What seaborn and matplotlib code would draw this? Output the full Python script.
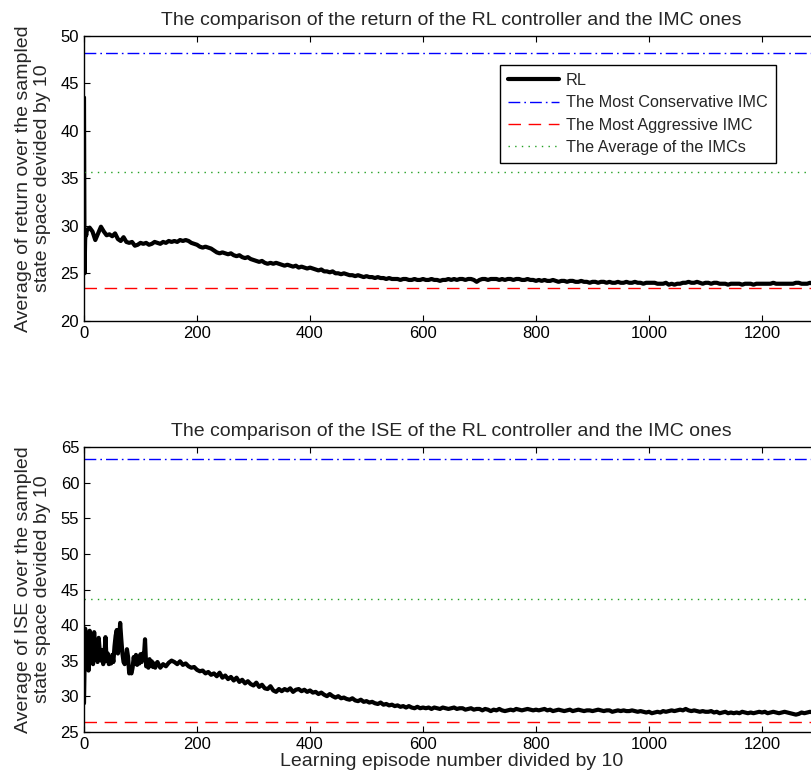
import numpy as np
import pandas as pd
import matplotlib
matplotlib.use("Agg")
import matplotlib.pyplot as plt
import seaborn as sns

# ---------------- data ----------------
episodes_return = [0, 1, 2, 3, 4] + list(range(5, 1301, 5))
episodes_ise = list(range(0, 130, 2)) + list(range(130, 1301, 5))

rl_return = [
    43.5, 25.0, 28.5, 29.3, 29.0,
    29.5, 29.8, 29.4, 28.5, 29.2, 29.9, 29.4, 29.0, 29.1, 28.9,
    29.2, 28.6, 28.4, 28.8, 28.3, 28.2, 28.3, 27.9, 28.0, 28.2,
    28.1, 28.2, 28.0, 28.1, 28.3, 28.2, 28.1, 28.3, 28.2, 28.4,
    28.3, 28.4, 28.3, 28.5, 28.4, 28.5, 28.4, 28.2, 28.1, 28.0,
    27.8, 27.7, 27.8, 27.7, 27.6, 27.4, 27.2, 27.1, 27.2, 27.1,
    27.0, 27.1, 26.9, 26.8, 26.9, 26.7, 26.6, 26.7, 26.5, 26.4,
    26.3, 26.2, 26.3, 26.1, 26.0, 26.1, 26.0, 26.1, 26.0, 25.9,
    25.8, 25.9, 25.8, 25.7, 25.8, 25.6, 25.7, 25.6, 25.5, 25.6,
    25.5, 25.4, 25.3, 25.4, 25.2, 25.2, 25.1, 25.2, 25.0, 25.0,
    24.9, 25.0, 24.9, 24.8, 24.8, 24.7, 24.8, 24.7, 24.6, 24.7,
    24.6, 24.6, 24.5, 24.6, 24.5, 24.5, 24.4, 24.5, 24.4, 24.4,
    24.4, 24.3, 24.4, 24.4, 24.3, 24.3, 24.4, 24.3, 24.3, 24.4,
    24.3, 24.3, 24.4, 24.3, 24.3, 24.2, 24.3, 24.3, 24.4, 24.3,
    24.4, 24.3, 24.4, 24.4, 24.3, 24.4, 24.4, 24.3, 24.1, 24.3,
    24.4, 24.4, 24.3, 24.4, 24.4, 24.4, 24.3, 24.4, 24.3, 24.4,
    24.4, 24.3, 24.4, 24.4, 24.3, 24.3, 24.4, 24.3, 24.3, 24.2,
    24.3, 24.2, 24.3, 24.2, 24.2, 24.3, 24.2, 24.1, 24.2, 24.2,
    24.1, 24.2, 24.2, 24.1, 24.1, 24.2, 24.1, 24.1, 24.0, 24.1,
    24.1, 24.0, 24.1, 24.1, 24.0, 24.1, 24.0, 24.0, 24.1, 24.0,
    24.0, 24.1, 24.0, 24.0, 24.1, 24.0, 24.0, 23.9, 24.0, 24.0,
    24.0, 24.0, 23.9, 23.9, 23.9, 24.0, 23.8, 23.9, 23.8, 23.9,
    23.9, 24.0, 24.0, 24.1, 24.0, 24.0, 24.1, 24.0, 23.9, 24.0,
    24.0, 23.9, 24.0, 24.0, 23.9, 23.9, 23.9, 23.8, 23.9, 23.9,
    23.9, 23.9, 23.8, 23.9, 23.9, 23.9, 23.8, 23.9, 23.9, 23.9,
    23.9, 23.9, 23.9, 24.0, 23.9, 23.9, 23.9, 23.9, 23.9, 23.9,
    23.9, 24.0, 24.0, 23.9, 23.9, 23.9, 24.0, 23.9, 23.9, 23.9,
]

rl_ise = [
    # episodes 0..128, every 2
    29.0, 39.5, 35.0, 38.8, 33.6, 39.2, 36.0, 38.5, 34.5, 39.0,
    35.5, 37.8, 34.8, 38.2, 36.2, 35.0, 36.5, 34.5, 35.5, 38.3,
    35.0, 36.0, 34.5, 35.2, 34.6, 35.8, 34.8, 37.0, 38.5, 39.3,
    36.0, 37.5, 40.3, 38.0, 36.0, 34.8, 34.5, 35.0, 36.6, 35.5,
    33.2, 33.5, 33.2, 34.0, 35.5, 34.6, 35.8, 34.4, 35.3, 34.6,
    35.9, 34.8, 36.0, 35.5, 38.0, 34.2, 35.0, 34.0, 35.2, 34.3,
    34.9, 34.1, 34.6, 34.0, 34.5,
    # episodes 130..1300, every 5
    34.8, 34.0, 34.5, 34.2, 34.7,
    35.0, 34.8, 34.5, 34.9, 34.4, 34.6, 34.2, 34.0, 34.1, 33.7,
    33.5, 33.6, 33.2, 33.4, 33.0, 33.2, 32.8, 33.3, 32.6, 32.9,
    32.4, 32.7, 32.2, 32.6, 32.0, 32.3, 31.8, 32.1, 31.7, 31.5,
    31.9, 31.3, 31.6, 31.1, 31.0, 31.4, 30.8, 30.6, 31.0, 30.7,
    31.0, 30.8, 31.1, 30.6, 30.9, 31.0, 30.7, 30.9, 30.6, 30.8,
    30.5, 30.6, 30.3, 30.5, 30.2, 30.0, 30.3, 30.0, 29.8, 30.0,
    29.7, 29.8, 29.6, 29.5, 29.7, 29.4, 29.3, 29.5, 29.2, 29.3,
    29.1, 29.2, 29.0, 28.9, 29.1, 28.8, 28.9, 28.7, 28.8, 28.6,
    28.7, 28.5, 28.6, 28.4, 28.6, 28.4, 28.3, 28.5, 28.3, 28.4,
    28.3, 28.4, 28.2, 28.4, 28.3, 28.2, 28.4, 28.3, 28.2, 28.3,
    28.4, 28.2, 28.3, 28.3, 28.1, 28.2, 28.3, 28.1, 28.2, 28.2,
    28.0, 28.2, 28.1, 27.9, 28.1, 28.0, 28.2, 28.0, 27.9, 28.0,
    28.1, 28.0, 28.2, 28.1, 28.0, 28.1, 28.2, 28.1, 28.0, 28.1,
    28.0, 28.1, 28.2, 28.0, 28.1, 27.9, 28.0, 28.1, 28.0, 27.9,
    28.0, 28.1, 27.9, 28.0, 28.1, 28.0, 27.9, 28.0, 28.0, 27.9,
    28.0, 28.1, 28.0, 27.9, 28.0, 28.0, 27.8, 27.9, 28.0, 27.9,
    28.0, 27.9, 27.9, 28.0, 27.9, 27.8, 27.9, 27.8, 27.7, 27.8,
    27.6, 27.7, 27.8, 27.7, 27.9, 27.8, 27.9, 28.0, 27.9, 28.0,
    28.1, 28.0, 28.2, 28.0, 27.9, 28.0, 27.9, 27.8, 27.9, 27.8,
    27.8, 27.9, 27.7, 27.8, 27.6, 27.7, 27.8, 27.6, 27.7, 27.6,
    27.7, 27.6, 27.8, 27.7, 27.6, 27.7, 27.6, 27.7, 27.8, 27.7,
    27.8, 27.6, 27.7, 27.8, 27.7, 27.6, 27.7, 27.8, 27.7, 27.6,
    27.5, 27.4, 27.5, 27.7, 27.6, 27.7, 27.8, 27.7, 27.6, 27.7,
]

imc_return = {"conservative": 48.15, "aggressive": 23.4, "average": 35.65}
imc_ise = {"conservative": 63.3, "aggressive": 26.4, "average": 43.65}

legend_labels = ["RL", "The Most Conservative IMC", "The Most Aggressive IMC",
                 "The Average of the IMCs"]
x_ticks = [0, 200, 400, 600, 800, 1000, 1200]
y_ticks_return = [20, 25, 30, 35, 40, 45, 50]
y_ticks_ise = [25, 30, 35, 40, 45, 50, 55, 60, 65]

# ---------------- style ----------------
sns.set_style("ticks")
plt.rcParams["font.family"] = ["Liberation Sans", "DejaVu Sans"]
plt.rcParams["xtick.direction"] = "in"
plt.rcParams["ytick.direction"] = "in"
plt.rcParams["xtick.top"] = True
plt.rcParams["ytick.right"] = True

TICK_FS = 12
LABEL_FS = 14
LEG_FS = 11.7
ref_styles = {
    "conservative": dict(color="#0000ff", dashes=(8.5, 2.9, 1.2, 2.9)),
    "aggressive": dict(color="#ff0000", dashes=(9.0, 5.5)),
    "average": dict(color="#22a022", dashes=(1.0, 3.8)),
}
ref_label = {"conservative": legend_labels[1], "aggressive": legend_labels[2],
             "average": legend_labels[3]}

fig = plt.figure(figsize=(8.12, 7.82), dpi=100)
ax1 = fig.add_axes([84 / 812, 1 - 320.8 / 782, 734.5 / 812, 285.1 / 782])
ax2 = fig.add_axes([84 / 812, 1 - 731.7 / 782, 734.5 / 812, 284.4 / 782])


def draw(ax, xs, rl, imc, yticks, ylim, title, ylabel, legend=False):
    df = pd.DataFrame({"episode": xs, "value": rl})
    sns.lineplot(data=df, x="episode", y="value", ax=ax, color="black",
                 linewidth=3.0, label=legend_labels[0], legend=False)
    xr = [min(xs), max(xs)]
    for key in ["conservative", "aggressive", "average"]:
        st = ref_styles[key]
        rdf = pd.DataFrame({"episode": xr, "value": [imc[key]] * 2})
        sns.lineplot(data=rdf, x="episode", y="value", ax=ax,
                     color=st["color"], linewidth=1.0,
                     label=ref_label[key], legend=False)
        ax.lines[-1].set_dashes(st["dashes"])
    ax.set_xlim(0, 1300)
    ax.set_ylim(*ylim)
    ax.set_xticks(x_ticks)
    ax.set_yticks(yticks)
    ax.tick_params(labelsize=TICK_FS, length=4, width=0.8, colors="black")
    for s in ax.spines.values():
        s.set_linewidth(1.0)
        s.set_color("black")
    ax.set_title(title, fontsize=LABEL_FS, pad=8)
    ax.set_ylabel(ylabel, fontsize=LABEL_FS, labelpad=7, linespacing=1.15)
    ax.set_xlabel("")
    if legend:
        leg = ax.legend(loc="upper right", bbox_to_anchor=(0.942, 0.898),
                        borderaxespad=0, fontsize=LEG_FS, frameon=True,
                        fancybox=False, framealpha=1, edgecolor="black",
                        handlelength=3.1, handletextpad=0.45,
                        labelspacing=0.45, borderpad=0.5)
        leg.get_frame().set_linewidth(1.0)


draw(ax1, episodes_return, rl_return, imc_return, y_ticks_return, (20, 50),
     "The comparison of the return of the RL controller and the IMC ones",
     "Average of return over the sampled\nstate space devided by 10", legend=True)
draw(ax2, episodes_ise, rl_ise, imc_ise, y_ticks_ise, (25, 65),
     "The comparison of the ISE of the RL controller and the IMC ones",
     "Average of ISE over the sampled\nstate space devided by 10")
ax2.set_xlabel("Learning episode number divided by 10", fontsize=LABEL_FS, labelpad=1)

fig.savefig("out.png", dpi=100)
